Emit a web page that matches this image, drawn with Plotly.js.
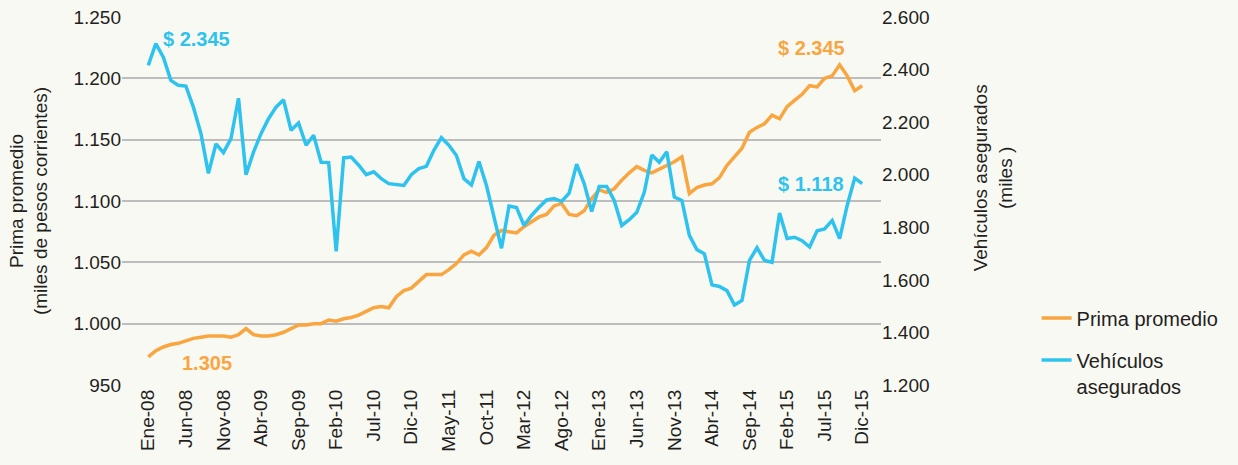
<!DOCTYPE html>
<html>
<head>
<meta charset="utf-8">
<script src="https://cdn.plot.ly/plotly-3.0.1.min.js"></script>
<style>
html,body{margin:0;padding:0;background:#f9f9f4;}
#chart{width:1238px;height:465px;}
</style>
</head>
<body>
<div id="chart"></div>
<script>
// Month labels
const monthNames = ["Ene","Feb","Mar","Abr","May","Jun","Jul","Ago","Sep","Oct","Nov","Dic"];
const years = ["08","09","10","11","12","13","14","15"];
const months = [];
years.forEach(y => monthNames.forEach(m => months.push(m + "-" + y)));

// Prima promedio (miles de pesos corrientes) - left axis
const primaPromedio = [
  973, 978, 981, 983, 984, 986, 988, 989, 990, 990, 990, 989,
  991, 996, 991, 990, 990, 991, 993, 996, 999, 999, 1000, 1000,
  1003, 1002, 1004, 1005, 1007, 1010, 1013, 1014, 1013, 1022, 1027, 1029,
  1035, 1040, 1040, 1040, 1044, 1049, 1056, 1059, 1056, 1062, 1072, 1076,
  1075, 1074, 1079, 1083, 1087, 1089, 1096, 1098, 1089, 1088, 1092, 1102,
  1109, 1107, 1110, 1117, 1123, 1128, 1125, 1123, 1126, 1129, 1132, 1136,
  1106, 1111, 1113, 1114, 1119, 1129, 1136, 1143, 1156, 1160, 1163, 1170,
  1167, 1177, 1182, 1187, 1194, 1193, 1200, 1202, 1211, 1202, 1190, 1194
];

// Vehículos asegurados (miles) - right axis
const vehiculosAsegurados = [
  2416, 2499, 2447, 2359, 2340, 2337, 2257, 2157, 2005, 2117, 2084, 2137,
  2291, 2000, 2086, 2156, 2213, 2257, 2285, 2169, 2197, 2112, 2150, 2047,
  2046, 1708, 2064, 2067, 2036, 2000, 2011, 1985, 1966, 1961, 1959, 2000,
  2023, 2032, 2093, 2141, 2112, 2073, 1985, 1961, 2050, 1959, 1832, 1720,
  1881, 1875, 1807, 1845, 1876, 1904, 1909, 1898, 1930, 2040, 1966, 1860,
  1955, 1955, 1902, 1807, 1829, 1857, 1933, 2075, 2047, 2087, 1915, 1902,
  1769, 1715, 1699, 1581, 1575, 1559, 1504, 1522, 1674, 1722, 1674, 1667,
  1854, 1757, 1762, 1749, 1725, 1787, 1794, 1826, 1757, 1883, 1987, 1966
];

const seriesNames = ["Prima promedio", "Vehículos<br>asegurados"];
const leftTitle = "Prima promedio<br>(miles de pesos corrientes)";
const rightTitle = "Vehículos asegurados<br>(miles )";
const orange = "#f9a540";
const blue = "#2ec3ee";
const textColor = "#231f20";
const fontFam = "'Liberation Sans', Arial, sans-serif";

const traces = [
  {
    x: months, y: primaPromedio, name: seriesNames[0], type: "scatter", mode: "lines",
    line: {color: orange, width: 3.5}, yaxis: "y", legendgroup: "a"
  },
  {
    x: months, y: vehiculosAsegurados, name: seriesNames[1], type: "scatter", mode: "lines",
    line: {color: blue, width: 3.5}, yaxis: "y2", legendgroup: "b"
  }
];

const layout = {
  width: 1238, height: 465,
  paper_bgcolor: "#f9f9f4", plot_bgcolor: "#f9f9f4",
  margin: {l: 122, r: 357, t: 17, b: 80},
  font: {family: fontFam, size: 19, color: textColor},
  separators: ",.",
  showlegend: true,
  legend: {
    x: 1.205, y: 0.235, xanchor: "left", yanchor: "top",
    bgcolor: "rgba(0,0,0,0)", font: {size: 20, color: textColor},
    itemwidth: 30, traceorder: "grouped", tracegroupgap: 13, valign: "top"
  },
  xaxis: {
    type: "category", range: [-3.5, 97.5],
    tickmode: "linear", tick0: 0, dtick: 5,
    tickangle: -90, showgrid: false, zeroline: false, showline: false,
    ticks: "", ticklen: 0, automargin: false,
    tickfont: {size: 19, color: textColor, family: fontFam}
  },
  yaxis: {
    range: [950, 1250], tickvals: [950, 1000, 1050, 1100, 1150, 1200, 1250],
    tickformat: ",.0f",
    showgrid: true, gridcolor: "#bdbdbd", gridwidth: 2, zeroline: false, showline: false,
    ticks: "", automargin: false,
    tickfont: {size: 19, color: textColor, family: fontFam},
    title: {text: leftTitle, standoff: 20, font: {size: 19, color: textColor, family: fontFam}}
  },
  yaxis2: {
    overlaying: "y", side: "right",
    range: [1200, 2600], tickvals: [1200, 1400, 1600, 1800, 2000, 2200, 2400, 2600],
    tickformat: ",.0f",
    showgrid: false, zeroline: false, showline: false, ticks: "", automargin: false,
    tickfont: {size: 19, color: textColor, family: fontFam}
  },
  annotations: [
    {x: 1.148, y: 0.5625, xref: "paper", yref: "paper", text: rightTitle, showarrow: false,
     textangle: -90, xanchor: "center", yanchor: "middle",
     font: {size: 19, color: textColor, family: fontFam}},
    {x: months[2], y: 1232, xref: "x", yref: "y", text: "<b>$ 2.345</b>", showarrow: false, xshift: -2,
     xanchor: "left", yanchor: "middle", font: {size: 20, color: blue, family: fontFam}},
    {x: months[84], y: 1225, xref: "x", yref: "y", text: "<b>$ 2.345</b>", showarrow: false, xshift: -4,
     xanchor: "left", yanchor: "middle", font: {size: 20, color: orange, family: fontFam}},
    {x: months[84], y: 1114, xref: "x", yref: "y", text: "<b>$ 1.118</b>", showarrow: false, xshift: -4,
     xanchor: "left", yanchor: "middle", font: {size: 20, color: blue, family: fontFam}},
    {x: months[4], y: 968, xref: "x", yref: "y", text: "<b>1.305</b>", showarrow: false, xshift: 2,
     xanchor: "left", yanchor: "middle", font: {size: 20, color: orange, family: fontFam}}
  ]
};

Plotly.newPlot("chart", traces, layout, {displayModeBar: false, staticPlot: true});
</script>
</body>
</html>
